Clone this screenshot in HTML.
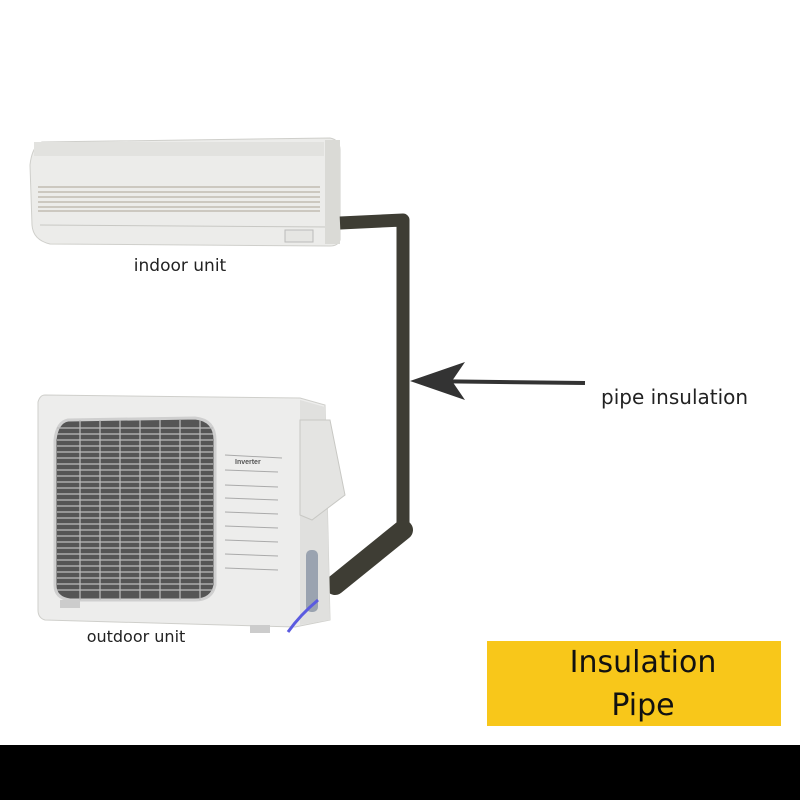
<!DOCTYPE html>
<html><head><meta charset="utf-8"><style>
html,body{margin:0;padding:0;background:#fff;width:800px;height:800px;overflow:hidden}
</style></head><body>
<svg width="800" height="800" viewBox="0 0 800 800" xmlns="http://www.w3.org/2000/svg" font-family="Liberation Sans, sans-serif">
<rect width="800" height="800" fill="#fff"/>
<!-- indoor unit -->
<path d="M42 142 L330 138 Q340 140 340 150 L340 240 Q338 246 330 246 L50 244 Q33 240 32 225 L30 165 Q32 146 42 142Z" fill="#ececea" stroke="#cfcfcb"/>
<rect x="34" y="142" width="290" height="14" fill="#e2e2df"/>
<g stroke="#b8b2a6" stroke-width="1.3">
<line x1="38" y1="187" x2="320" y2="187"/><line x1="38" y1="192" x2="320" y2="192"/>
<line x1="38" y1="197" x2="320" y2="197"/><line x1="38" y1="202" x2="320" y2="202"/>
<line x1="38" y1="207" x2="320" y2="207"/><line x1="38" y1="211" x2="320" y2="211"/>
</g>
<line x1="40" y1="225" x2="330" y2="227" stroke="#c8c8c4"/>
<rect x="325" y="140" width="15" height="104" fill="#dadad6"/>
<rect x="285" y="230" width="28" height="12" fill="#e6e6e3" stroke="#bbb"/>
<text x="180" y="271" font-size="17" text-anchor="middle" fill="#222" font-family="DejaVu Sans, sans-serif">indoor unit</text>
<!-- pipe -->
<path d="M340 223 L403 220 L403 535" fill="none" stroke="#3e3d34" stroke-width="13" stroke-linejoin="round"/>
<path d="M403 530 L335 585" fill="none" stroke="#3e3d34" stroke-width="20" stroke-linecap="round"/>
<!-- arrow -->
<line x1="585" y1="383" x2="420" y2="381" stroke="#333" stroke-width="4"/>
<path d="M410 381 L465 362 L452 381 L465 400 Z" fill="#333"/>
<text x="601" y="404" font-size="20" fill="#222" font-family="DejaVu Sans, sans-serif">pipe insulation</text>
<!-- outdoor unit -->
<path d="M45 395 L300 398 L325 405 L330 620 L295 627 L45 620 Q38 618 38 610 L38 402 Q40 395 45 395Z" fill="#ededec" stroke="#cfcfcb"/>
<path d="M300 400 L325 407 L330 620 L300 625Z" fill="#e0e0de"/>
<path d="M300 420 L330 420 L345 495 L312 520 L300 515Z" fill="#e4e4e2" stroke="#c8c8c4"/>
<path d="M68 420 L195 418 Q215 420 215 440 L215 585 Q212 600 195 600 L70 600 Q55 598 55 585 L55 440 Q57 422 68 420Z" fill="#555" stroke="#cfcfcf" stroke-width="3"/>
<g stroke="#bdbdbd" stroke-width="1.2">
<line x1="57" y1="428" x2="213" y2="428"/><line x1="57" y1="434" x2="213" y2="434"/><line x1="57" y1="440" x2="213" y2="440"/><line x1="57" y1="446" x2="213" y2="446"/><line x1="57" y1="452" x2="213" y2="452"/><line x1="57" y1="458" x2="213" y2="458"/><line x1="57" y1="464" x2="213" y2="464"/><line x1="57" y1="470" x2="213" y2="470"/><line x1="57" y1="476" x2="213" y2="476"/><line x1="57" y1="482" x2="213" y2="482"/><line x1="57" y1="488" x2="213" y2="488"/><line x1="57" y1="494" x2="213" y2="494"/><line x1="57" y1="500" x2="213" y2="500"/><line x1="57" y1="506" x2="213" y2="506"/><line x1="57" y1="512" x2="213" y2="512"/><line x1="57" y1="518" x2="213" y2="518"/><line x1="57" y1="524" x2="213" y2="524"/><line x1="57" y1="530" x2="213" y2="530"/><line x1="57" y1="536" x2="213" y2="536"/><line x1="57" y1="542" x2="213" y2="542"/><line x1="57" y1="548" x2="213" y2="548"/><line x1="57" y1="554" x2="213" y2="554"/><line x1="57" y1="560" x2="213" y2="560"/><line x1="57" y1="566" x2="213" y2="566"/><line x1="57" y1="572" x2="213" y2="572"/><line x1="57" y1="578" x2="213" y2="578"/><line x1="57" y1="584" x2="213" y2="584"/><line x1="57" y1="590" x2="213" y2="590"/>
<line x1="80" y1="420" x2="80" y2="600"/><line x1="100" y1="420" x2="100" y2="600"/><line x1="120" y1="420" x2="120" y2="600"/><line x1="140" y1="420" x2="140" y2="600"/><line x1="160" y1="420" x2="160" y2="600"/><line x1="180" y1="420" x2="180" y2="600"/><line x1="200" y1="420" x2="200" y2="600"/>
</g>
<text x="235" y="464" font-size="7" fill="#555" font-weight="bold">Inverter</text>
<g stroke="#aaa" stroke-width="1">
<line x1="225" y1="455" x2="282" y2="458"/><line x1="225" y1="470" x2="278" y2="472"/><line x1="225" y1="485" x2="278" y2="487"/><line x1="225" y1="498" x2="278" y2="500"/><line x1="225" y1="512" x2="278" y2="514"/><line x1="225" y1="526" x2="278" y2="528"/><line x1="225" y1="540" x2="278" y2="542"/><line x1="225" y1="554" x2="278" y2="556"/><line x1="225" y1="568" x2="278" y2="570"/>
</g>
<rect x="306" y="550" width="12" height="62" rx="5" fill="#9aa3b0"/>
<path d="M318 600 Q300 615 288 632" stroke="#5b5be0" stroke-width="3" fill="none"/>
<rect x="60" y="600" width="20" height="8" fill="#ccc"/><rect x="250" y="625" width="20" height="8" fill="#ccc"/>
<text x="136" y="642" font-size="16" text-anchor="middle" fill="#222" font-family="DejaVu Sans, sans-serif">outdoor unit</text>
<!-- label box -->
<rect x="487" y="641" width="294" height="85" fill="#f8c71a"/>
<text x="643" y="672" font-size="30" text-anchor="middle" fill="#111" font-family="DejaVu Sans, sans-serif">Insulation</text>
<text x="643" y="715" font-size="30" text-anchor="middle" fill="#111" font-family="DejaVu Sans, sans-serif">Pipe</text>
<rect x="0" y="745" width="800" height="55" fill="#000"/>
</svg>
</body></html>
